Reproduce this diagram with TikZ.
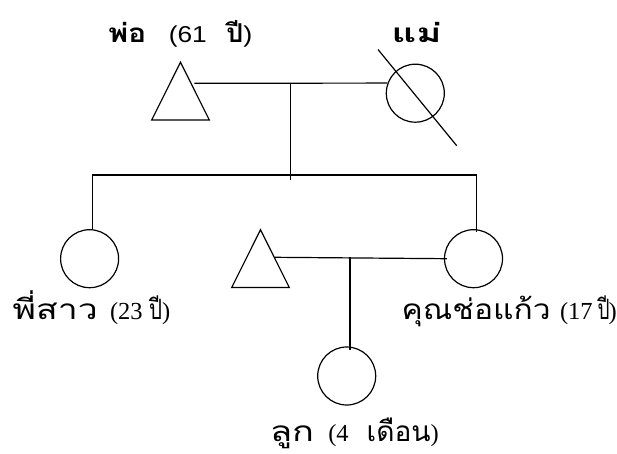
\documentclass[tikz,border=0pt]{standalone}
\usepackage{fontspec}
\usepackage{graphicx}
\setmainfont{Liberation Serif}
\newfontfamily\thai[Script=Thai]{Loma}
\newfontfamily\lsans{Liberation Sans}
\newfontfamily\lserif{Liberation Serif}
\tikzset{
  lw/.style={line width=1.2pt},
  female/.style={circle, draw, lw, minimum size=58pt, inner sep=0pt},
  male/.pic={\draw[lw, line join=miter] (0,-28.85) -- (28.8,28.85) -- (-28.8,28.85) -- cycle;},
  link/.style={lw},
  lab/.style={anchor=base west, inner sep=0pt, outer sep=0pt},
}
% Thai words: bold top labels / regular lower labels, stretched to a width
\newcommand{\thT}[2]{\resizebox{#1}{\height}{\fontsize{26}{30}\selectfont\thai\bfseries #2}}
\newcommand{\thL}[2]{\resizebox{#1}{\height}{\fontsize{28}{32}\selectfont\thai #2}}
\newcommand{\dS}[2]{\resizebox{#1}{\height}{\lsans\fontsize{23}{27}\selectfont #2}}
\newcommand{\dR}[1]{{\lserif\fontsize{24.5}{28}\selectfont #1}}
\begin{document}
\begin{tikzpicture}[x=1pt,y=-1pt]
\useasboundingbox (0,0) rectangle (617,454);
% persons
\coordinate (dad) at (180.5,91.15);
\pic at (dad) {male};
\node[female] (mom) at (415.3,93.2) {};
\node[female] (sis) at (89.6,258.7) {};
\coordinate (husb) at (260.5,258.65);
\pic at (husb) {male};
\node[female] (kaew) at (473.5,258.7) {};
\node[female] (baby) at (346.7,376) {};
% deceased mark
\coordinate (d1) at (378,49.5);
\coordinate (d2) at (456.7,145.7);
\draw[link] (d1) -- (d2);
% parents
\coordinate (m1) at (194.3,83.3);
\coordinate (j1) at (290.8,83.3);
\coordinate (j1b) at (290.8,180);
\draw[link] (m1) -- (mom.160);
\draw[link] (j1) -- (j1b);
% siblings
\coordinate (s1) at (92.3,175);
\coordinate (s2) at (476.7,175);
\draw[link] (s1) -- (s2);
\draw[link] (s1) -- (s1 |- sis.north);
\draw[link] (s2) -- ([yshift=-3pt]s2 |- kaew.north);
% couple
\coordinate (m2) at (275,257.3);
\coordinate (j2) at (350,257.3);
\draw[link] (m2) -- ([xshift=3pt]kaew.west);
\draw[link] (j2) -- ([yshift=-4pt]j2 |- baby.north);
% labels
\node[lab] (ldad) at (108.3,42.5) {\makebox[60.5pt][l]{\thT{38pt}{พ่อ}}\makebox[57.5pt][l]{\dS{38pt}{(61}}\makebox[17pt][l]{\thT{17pt}{ปี}}\dS{9pt}{)}};
\node[lab] (lmom) at (391.7,42.5) {\thT{50pt}{แม่}};
\node[lab] (lsis) at (12.7,319.3) {\makebox[97.3pt][l]{\thL{85pt}{พี่สาว}}\makebox[39pt][l]{\dR{(23}}\makebox[13pt][l]{\thL{13pt}{ปี}}\dR{)}};
\node[lab] (lkaew) at (401.7,319.3) {\makebox[158.3pt][l]{\thL{149pt}{คุณช่อแก้ว}}\makebox[37.5pt][l]{\dR{(17}}\makebox[11pt][l]{\thL{12pt}{ปี}}\dR{)}};
\node[lab] (lbaby) at (270,441.7) {\makebox[58.3pt][l]{\thL{44pt}{ลูก}}\makebox[38.4pt][l]{\dR{(4}}\makebox[64pt][l]{\thL{64pt}{เดือน}}\dR{)}};
\end{tikzpicture}
\end{document}
